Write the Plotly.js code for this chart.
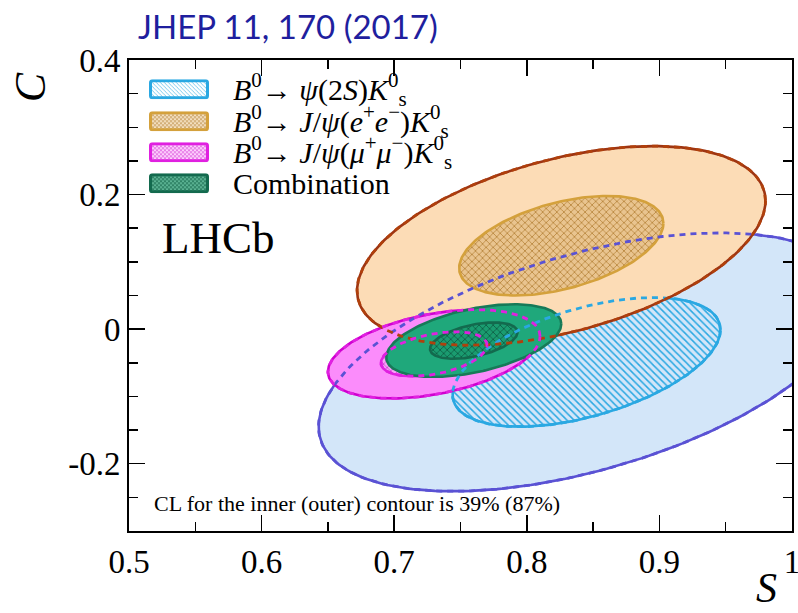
<!DOCTYPE html>
<html>
<head>
<meta charset="utf-8">
<script src="https://cdn.plot.ly/plotly-3.0.1.min.js"></script>
<style>
  html, body { margin: 0; padding: 0; background: #ffffff; }
  #chart { width: 798px; height: 613px; }
</style>
</head>
<body>
<div id="chart"></div>
<script>
// Fitted (S, C) per decay mode: central values, uncertainties and S-C correlation
const modeKeys = ['psi2S', 'jpsiEE', 'jpsiMuMu', 'combination'];
const centreS = [0.845, 0.826, 0.730, 0.760];
const centreC = [-0.049, 0.124, -0.037, -0.017];
const sigmaS  = [0.101, 0.077, 0.040, 0.033];
const sigmaC  = [0.096, 0.074, 0.033, 0.027];
const corrSC  = [0.50, 0.45, 0.40, 0.46];

// Delta chi2 = 1 and 4 contours: 39% and 87% CL in two dimensions
const innerScale = 1;
const outerScale = 2;

const legendLabels = [
  '<i>B</i><sup>0</sup>→ <i>ψ</i>(2<i>S</i>)<i>K</i><sup>0</sup><sub>s</sub>',
  '<i>B</i><sup>0</sup>→ <i>J</i>/<i>ψ</i>(<i>e</i><sup>+</sup><i>e</i><sup>−</sup>)<i>K</i><sup>0</sup><sub>s</sub>',
  '<i>B</i><sup>0</sup>→ <i>J</i>/<i>ψ</i>(<i>μ</i><sup>+</sup><i>μ</i><sup>−</sup>)<i>K</i><sup>0</sup><sub>s</sub>',
  'Combination'
];

const xTickVals = [0.5, 0.6, 0.7, 0.8, 0.9, 1.0];
const xTickText = ['0.5', '0.6', '0.7', '0.8', '0.9', '1'];
const yTickVals = [-0.2, 0, 0.2, 0.4];
const yTickText = ['-0.2', '0', '0.2', '0.4'];

// Styling per mode
const outerFill = ['#d3e6f9', '#fcdcb6', '#fb8cfb', '#1fa87b'];
const outerLine = ['#5a52d4', '#9e3512', '#d000d0', '#177a58'];
const innerFill = ['#d3e6f9', '#e9c48f', '#f7a2f7', '#1a9c70'];
const innerHatch = ['#2aa8e2', '#b8873e', '#d640d6', '#0d5c43'];
const innerShape = ['\\', 'x', 'x', 'x'];
const innerLine = ['#2aa8e2', '#d4a13c', '#e020e0', '#136a4e'];
const swatchBg = ['#ffffff', '#f3dfbf', '#fdd0fd', '#5bb393'];

// Contour of a correlated Gaussian at k standard deviations
function contour(i, k) {
  const xs = [], ys = [];
  const n = 240;
  const r = corrSC[i], q = Math.sqrt(1 - r * r);
  for (let j = 0; j <= n; j++) {
    const t = 2 * Math.PI * j / n;
    const u = Math.cos(t), v = Math.sin(t);
    xs.push(centreS[i] + k * sigmaS[i] * u);
    ys.push(centreC[i] + k * sigmaC[i] * (r * u + q * v));
  }
  return { x: xs, y: ys };
}

const traces = [];
for (let i = 0; i < modeKeys.length; i++) {
  const o = contour(i, outerScale);
  traces.push({
    type: 'scatter', mode: 'lines', x: o.x, y: o.y, fill: 'toself',
    fillcolor: outerFill[i], line: { color: outerLine[i], width: 2.6 },
    hoverinfo: 'skip', showlegend: false
  });
  const c = contour(i, innerScale);
  traces.push({
    type: 'scatter', mode: 'lines', x: c.x, y: c.y, fill: 'toself',
    fillcolor: innerFill[i],
    fillpattern: { shape: innerShape[i], fgcolor: innerHatch[i], bgcolor: innerFill[i],
                   size: 5, solidity: 0.3, fillmode: 'replace' },
    line: { color: innerLine[i], width: 2.6 },
    hoverinfo: 'skip', showlegend: false
  });
}

// Hidden parts of the single-mode contours, drawn dashed on top
const dashedOverlay = [[0, outerScale, outerLine[0]], [0, innerScale, innerLine[0]],
                       [1, outerScale, '#b0400c'],
                       [2, outerScale, '#e020e0'], [2, innerScale, '#e020e0']];
dashedOverlay.forEach(([i, k, col]) => {
  const c = contour(i, k);
  traces.push({
    type: 'scatter', mode: 'lines', x: c.x, y: c.y,
    line: { color: col, width: 2.8, dash: '6px,5px' },
    hoverinfo: 'skip', showlegend: false
  });
});

// Plot-area pixel helpers for decorations
const PL = 129, PR = 792, PT = 59.8, PB = 530.6;
const px = x => (x - PL) / (PR - PL);
const py = y => (PB - y) / (PB - PT);

function swatch(i) {
  const bg = swatchBg[i], fg = innerHatch[i], ln = innerLine[i];
  const d = innerShape[i] === 'x' ? 'M0,0 L4,4 M4,0 L0,4' : 'M0,0 L4,4 M-1,3 L1,5 M3,-1 L5,1';
  const svg = "<svg xmlns='http://www.w3.org/2000/svg' width='60' height='20'>" +
    "<defs><pattern id='p' width='4' height='4' patternUnits='userSpaceOnUse'>" +
    "<path d='" + d + "' stroke='" + fg + "' stroke-width='0.7' stroke-opacity='0.8'/></pattern></defs>" +
    "<rect x='1.5' y='1.5' width='57' height='17' rx='2' fill='" + bg + "'/>" +
    "<rect x='1.5' y='1.5' width='57' height='17' rx='2' fill='url(#p)' stroke='" + ln + "' stroke-width='3'/>" +
    "</svg>";
  return 'data:image/svg+xml;base64,' + btoa(svg);
}

const legendRowY = [89, 121, 152, 183];
const images = legendRowY.map((y, i) => ({
  source: swatch(i), xref: 'paper', yref: 'paper',
  x: px(149), y: py(y - 10), sizex: px(209) - px(149), sizey: py(y - 10) - py(y + 10),
  xanchor: 'left', yanchor: 'top', sizing: 'stretch', layer: 'above'
}));

const serif = '"Liberation Serif"';
const annotations = legendRowY.map((y, i) => ({
  text: legendLabels[i], xref: 'paper', yref: 'paper', x: px(231), y: py(y),
  xanchor: 'left', yanchor: 'middle', showarrow: false,
  font: { family: serif, size: 30, color: '#000' }
}));
annotations.push(
  { text: 'LHCb', xref: 'paper', yref: 'paper', x: px(160), y: py(238),
    xanchor: 'left', yanchor: 'middle', showarrow: false,
    font: { family: serif, size: 45, color: '#000' } },
  { text: 'CL for the inner (outer) contour is 39% (87%)', xref: 'paper', yref: 'paper',
    x: px(152), y: py(503), xanchor: 'left', yanchor: 'middle', showarrow: false,
    font: { family: serif, size: 22, color: '#000' } },
  { text: '<i>C</i>', xref: 'paper', yref: 'paper', x: px(30), y: py(87),
    xanchor: 'center', yanchor: 'middle', showarrow: false, textangle: -90,
    font: { family: serif, size: 44, color: '#000' } },
  { text: '<i>S</i>', xref: 'paper', yref: 'paper', x: px(766), y: py(588),
    xanchor: 'center', yanchor: 'middle', showarrow: false,
    font: { family: serif, size: 42, color: '#000' } }
);

const axisCommon = {
  showgrid: false, zeroline: false, showline: true, linecolor: '#000', linewidth: 2,
  mirror: 'allticks', ticks: 'inside', tickcolor: '#000', tickwidth: 1.5, ticklen: 16,
  tickmode: 'array', tickfont: { family: serif, size: 33, color: '#000' },
  ticklabeloverflow: 'allow', fixedrange: true
};

const layout = {
  width: 798, height: 613,
  margin: { l: PL, r: 798 - PR, t: PT, b: 613 - PB },
  paper_bgcolor: '#ffffff', plot_bgcolor: '#ffffff',
  showlegend: false,
  font: { family: serif },
  title: {
    text: 'JHEP 11, 170 (2017)', xref: 'container', yref: 'container',
    x: 138 / 798, xanchor: 'left', y: 1 - 27 / 613, yanchor: 'middle',
    font: { family: 'Lato', size: 33, color: '#1f1f9e' }
  },
  xaxis: Object.assign({}, axisCommon, {
    range: [0.5, 1.0], tickvals: xTickVals, ticktext: xTickText,
    minor: { ticks: 'inside', ticklen: 9, tickwidth: 1.5, tickcolor: '#000', dtick: 0.05, tick0: 0.5 }
  }),
  yaxis: Object.assign({}, axisCommon, {
    range: [-0.3, 0.4], tickvals: yTickVals, ticktext: yTickText,
    minor: { ticks: 'inside', ticklen: 9, tickwidth: 1.5, tickcolor: '#000', dtick: 0.05, tick0: 0 }
  }),
  images: images,
  annotations: annotations
};

Plotly.newPlot('chart', traces, layout, { staticPlot: true, displayModeBar: false });
</script>
</body>
</html>
